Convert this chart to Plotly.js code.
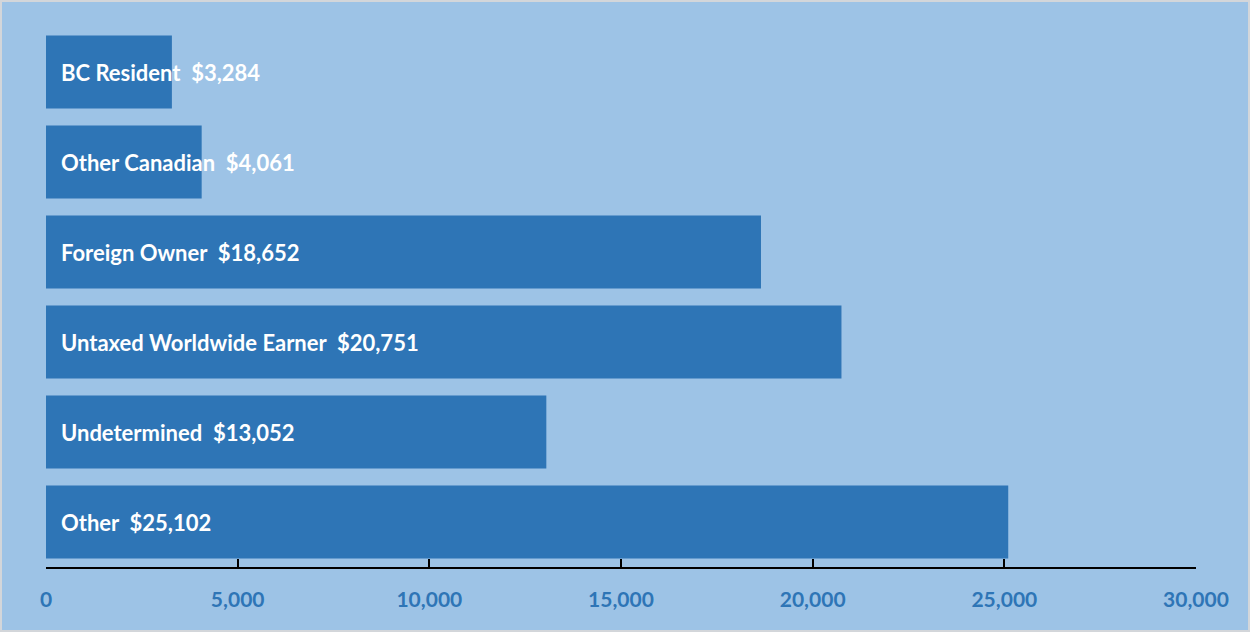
<!DOCTYPE html>
<html>
<head>
<meta charset="utf-8">
<script src="https://cdn.plot.ly/plotly-3.0.1.min.js"></script>
<style>
html,body{margin:0;padding:0;background:#9DC3E6;}
#chart{width:1250px;height:632px;}
#frame{position:absolute;left:0;top:0;width:1250px;height:632px;box-sizing:border-box;border:2px solid #D3D6DA;pointer-events:none;}
</style>
</head>
<body>
<div id="chart"></div>
<div id="frame"></div>
<script>
const categories = ["BC Resident", "Other Canadian", "Foreign Owner", "Untaxed Worldwide Earner", "Undetermined", "Other"];
const values = [3284, 4061, 18652, 20751, 13052, 25102];
const tickValues = [0, 5000, 10000, 15000, 20000, 25000, 30000];
const tickLabels = ["0", "5,000", "10,000", "15,000", "20,000", "25,000", "30,000"];

const barColor = "#2E75B6";
const bg = "#9DC3E6";
const font = "Lato, 'Open Sans', sans-serif";

const trace = {
  type: "bar",
  orientation: "h",
  x: values,
  y: categories,
  marker: {color: barColor, line: {width: 0}},
  hoverinfo: "skip"
};

const annotations = categories.map((c, i) => ({
  x: 0, y: c, xref: "x", yref: "y",
  xanchor: "left", yanchor: "middle",
  xshift: 13,
  showarrow: false,
  text: c + "\u00A0\u00A0$" + values[i].toLocaleString("en-US"),
  font: {family: font, size: 22, color: "#FFFFFF", weight: "bold"}
}));

const layout = {
  width: 1250, height: 632,
  paper_bgcolor: bg, plot_bgcolor: bg,
  margin: {l: 46, r: 54, t: 27, b: 65},
  bargap: 0.19,
  showlegend: false,
  xaxis: {
    range: [0, 30000],
    tickvals: tickValues,
    ticktext: tickLabels,
    showgrid: false, zeroline: false,
    showline: true, linecolor: "#000000", linewidth: 2,
    ticks: "inside", ticklen: 8, tickwidth: 2, tickcolor: "#000000",
    ticklabelstandoff: 13,
    tickfont: {family: font, size: 21, color: barColor, weight: "bold"}
  },
  yaxis: {
    autorange: "reversed",
    showticklabels: false, showgrid: false, zeroline: false, showline: false, ticks: ""
  },
  annotations: annotations
};

Plotly.newPlot("chart", [trace], layout, {staticPlot: true, displayModeBar: false});
</script>
</body>
</html>
